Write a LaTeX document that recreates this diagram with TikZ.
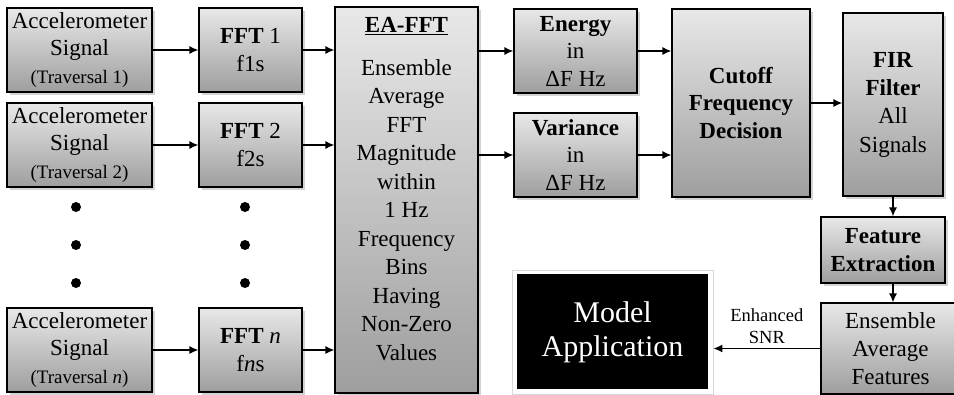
\documentclass[tikz,border=0pt]{standalone}
\usepackage{fontspec}
\setmainfont{Liberation Serif}
\usepackage{tikz}
\usetikzlibrary{arrows.meta,positioning,shadows,calc}

\tikzset{
  blk/.style={draw=black,line width=1.2pt,top color=black!9,bottom color=black!38,
    drop shadow={shadow xshift=2.5pt,shadow yshift=-2.5pt,opacity=0.35},
    align=center,inner sep=0pt,font=\fontsize{23}{27.5}\selectfont},
  flow/.style={line width=1.3pt,-{Latex[length=9pt,width=8pt]}},
  small/.style={font=\fontsize{19}{22}\selectfont}
}

\begin{document}
\begin{tikzpicture}[x=1pt,y=-1pt]
    \useasboundingbox (0,0) rectangle (954,394);
    % signals and their FFTs
    \node[blk,minimum width=145pt,minimum height=84pt] (acc1) at (79.5,50) {Accelerometer\\Signal\\{\fontsize{19}{22}\selectfont (Traversal 1)}};
    \node[blk,minimum width=145pt,minimum height=84pt] (acc2) at (79.5,145) {Accelerometer\\Signal\\{\fontsize{19}{22}\selectfont (Traversal 2)}};
    \node[blk,minimum width=145pt,minimum height=84pt] (accn) at (79.5,350) {Accelerometer\\Signal\\{\fontsize{19}{22}\selectfont (Traversal \textit{n})}};
    \node[blk,minimum width=103pt,minimum height=84pt] (fft1) at (250.5,50) {\textbf{FFT} 1\\f1s};
    \node[blk,minimum width=103pt,minimum height=84pt] (fft2) at (250.5,145) {\textbf{FFT} 2\\f2s};
    \node[blk,minimum width=103pt,minimum height=84pt] (fftn) at (250.5,350) {\textbf{FFT} \textit{n}\\f\textit{n}s};
    \foreach \x in {76,245}
    {
      \foreach \y in {207,245,283}
        {
          \fill (\x,\y) circle (5pt);
        }
    }
    % ensemble average
    \node[blk,minimum width=143pt,minimum height=386pt] (ea) at (406.5,200) {};
    \node[align=center,inner sep=0pt,font=\fontsize{23}{28.5}\selectfont] (eatxt) at (406.5,189)
      {\underline{\textbf{EA-FFT}}\\[14pt]Ensemble\\Average\\FFT\\Magnitude\\within\\1 Hz\\Frequency\\Bins\\Having\\Non-Zero\\Values};
    \node[blk,minimum width=123pt,minimum height=84pt] (energy) at (575.5,51) {\textbf{Energy}\\in\\ΔF Hz};
    \node[blk,minimum width=123pt,minimum height=84pt] (variance) at (575.5,155) {\textbf{Variance}\\in\\ΔF Hz};
    \node[blk,minimum width=138pt,minimum height=188pt] (cutoff) at (741,103) {\textbf{Cutoff}\\\textbf{Frequency}\\\textbf{Decision}};
    \node[blk,minimum width=100pt,minimum height=183pt,font=\fontsize{23}{28.3}\selectfont] (fir) at (893,104.5) {\textbf{FIR}\\\textbf{Filter}\\All\\Signals};
    \node[blk,minimum width=124pt,minimum height=66pt] (feat) at (883,250) {\textbf{Feature}\\\textbf{Extraction}};
    \node[blk,minimum width=139pt,minimum height=91pt,font=\fontsize{23}{28}\selectfont] (eaf) at (890.5,348.5) {Ensemble\\Average\\Features};
    \node[draw=black!15,line width=0.8pt,fill=white,minimum width=201pt,minimum height=124pt,
      text=white,align=center,font=\fontsize{30}{34}\selectfont,
      path picture={\fill[black] ([shift={(5pt,-4pt)}]path picture bounding box.north west) rectangle ([shift={(-5pt,5pt)}]path picture bounding box.south east);}]
      (model) at (612.5,332) {Model\\Application};
    % connectors
    \draw[flow] (acc1) -- (fft1);
    \draw[flow] (acc2) -- (fft2);
    \draw[flow] (accn) -- (fftn);
    \draw[flow] (fft1.east) -- (fft1.east -| ea.west);
    \draw[flow] (fft2.east) -- (fft2.east -| ea.west);
    \draw[flow] (fftn.east) -- (fftn.east -| ea.west);
    \draw[flow] (energy.west -| ea.east) -- (energy.west);
    \draw[flow] (variance.west -| ea.east) -- (variance.west);
    \draw[flow] (energy.east) -- (energy.east -| cutoff.west);
    \draw[flow] (variance.east) -- (variance.east -| cutoff.west);
    \draw[flow] (cutoff.east) -- (cutoff.east -| fir.west);
    \draw[flow] (fir.south) -- (fir.south |- feat.north);
    \draw[flow] (feat.south -| fir.south) -- (eaf.north -| fir.south);
    \draw[flow] (eaf.west) -- node[above=1pt,align=center,font=\fontsize{18.5}{22}\selectfont] (snr) {Enhanced\\SNR} (eaf.west -| model.east);
\end{tikzpicture}
\end{document}
